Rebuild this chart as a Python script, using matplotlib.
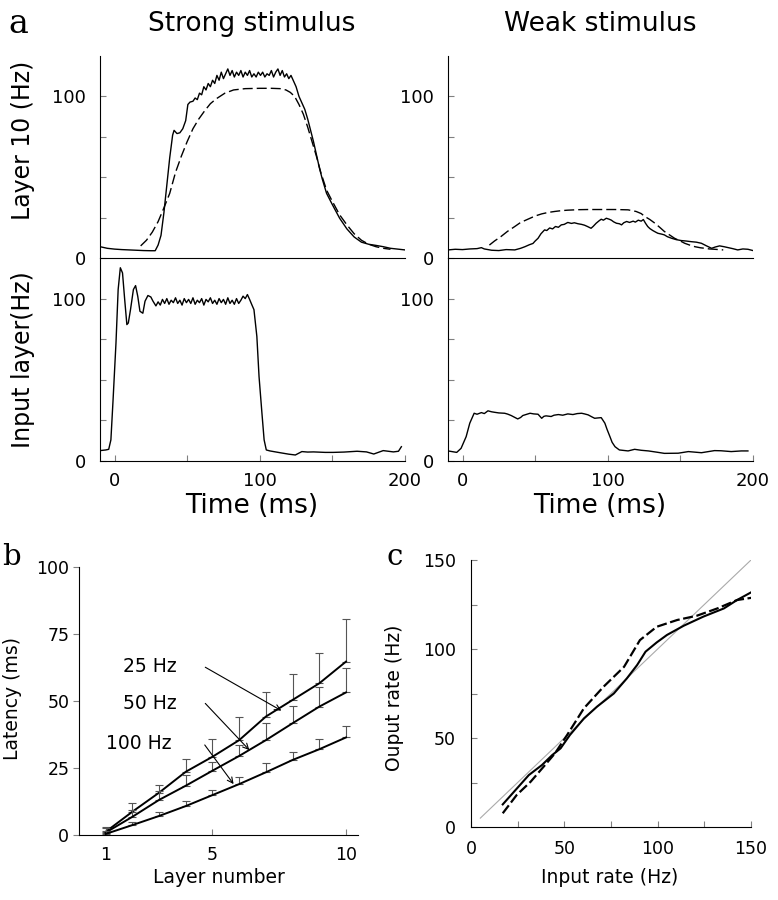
import matplotlib
matplotlib.use('Agg')
import matplotlib.pyplot as plt

# ---- panel a: layer 10 output, strong stimulus (solid = simulation, dashed = prediction)
t_s10 = [-10, -5, 0, 5, 10, 15, 20, 25, 28, 30, 32, 34, 36, 38, 40, 41, 43, 45, 47, 49, 50.5, 52, 54,
         55.5, 57, 58.5, 60, 61.5, 63, 64.5, 66, 67.5, 69, 70.5, 72, 73.5, 75, 76.5, 78, 79.5, 81, 82.5,
         84, 85.5, 87, 88.5, 90, 91.5, 93, 94.5, 96, 97.5, 99, 100.5, 102, 103.5, 105, 106.5, 108, 109.5,
         111, 112.5, 114, 115.5, 117, 118.5, 120, 121.5, 123,
         125, 127, 129, 131, 133, 135, 137, 139, 141, 143, 146, 150, 155, 160, 165, 170, 175, 180, 185,
         190, 195, 200]
v_s10 = [7, 6, 5.5, 5.2, 5, 4.8, 4.6, 4.5, 4.5, 8, 14, 28, 45, 62, 76, 79, 77, 77.5, 80, 85, 95, 96.5, 97,
         99, 98, 102, 101, 106, 104, 108, 106, 110, 108, 113, 110, 115, 111, 114, 117, 113, 116, 112, 115,
         113, 116, 112, 115, 113, 116, 112, 114, 112, 115, 113, 115, 112, 114, 113, 116, 112, 115, 117,
         113, 116, 112, 114, 111, 113, 110,
         106, 100, 96, 92, 86, 79, 72, 64, 56, 49, 40, 33, 24.6, 18, 13, 9.8, 8.5, 7.8, 7, 6, 5.5, 5]
t_d10 = [18, 22, 26, 30, 34, 38, 42, 46, 50, 54, 58, 62, 66, 70, 76, 82, 90, 100, 108, 114, 118, 121,
         124, 127, 130, 133, 136, 139, 142, 146, 150, 155, 160, 165, 170, 175, 180, 185, 190]
v_d10 = [7.5, 11, 16, 22.5, 31, 40, 53, 63, 72, 80, 86, 91, 95.5, 98.5, 102, 104, 104.8, 105, 105, 104.8,
         104, 102.5, 100, 95, 89, 81, 72, 63, 53, 42, 35, 26.7, 20.5, 15, 11, 8.5, 7, 6, 5.4]

# layer 10 output, weak stimulus
t_sw = [-10, -5, 0, 5, 10, 13, 15, 20, 25, 30, 36, 40, 43, 46, 48.5, 50, 52, 54, 56.5, 58, 60, 62, 64,
        66, 68, 70, 72.5, 75, 77, 79.5, 82, 84, 86, 88.5, 90, 92, 94, 95.5, 97, 99, 101, 102.5, 104, 106,
        108, 109.5, 111, 113, 115, 117.5, 119, 121, 123, 124.5, 126, 127.5, 129, 131, 133, 134.5, 137,
        139, 141, 144, 147, 150.5, 154, 157.5, 161, 164.5, 168, 171.5, 174, 177, 180, 183, 186, 189.5,
        193, 196.5, 200]
v_sw = [5, 5.4, 5.2, 5.6, 5.8, 6.4, 5.6, 4.8, 4.6, 5.2, 5, 6, 7, 8.2, 9, 10.5, 12.2, 15, 17.4, 17, 18.6,
        18, 19.5, 19, 20.5, 20.8, 22, 21.4, 21.8, 21.2, 20.8, 20.3, 19.5, 18.4, 19.6, 21.5, 23, 24, 23.4,
        24.6, 24, 23.4, 22.4, 21.5, 21.2, 20.5, 21.8, 22.6, 22, 22.8, 22.2, 23.4, 22.8, 23.8, 21.5, 19.5,
        18.2, 17, 16, 15.3, 14.8, 14.3, 13.2, 12.2, 11.4, 10.8, 10.5, 10.1, 9.8, 9.1, 7.5, 6, 6.8, 7.5,
        7, 6.4, 5.8, 5, 5.6, 5.4, 4.6]
t_dw = [18.5, 22, 26.5, 31, 36, 40, 45, 50, 54.5, 59, 63.5, 68, 72.5, 80, 86.5, 95, 105, 114, 119.5,
        123, 125.5, 129, 132.5, 136, 139, 143, 146, 150, 153, 157, 160, 164, 167, 170, 173.5, 179.5]
v_dw = [8, 10.5, 13.3, 16.5, 19.5, 22, 24, 26, 27.3, 28.2, 28.8, 29.3, 29.6, 29.9, 30, 30, 30, 29.8,
        28.8, 27.5, 25.7, 23.8, 21.5, 18.8, 16.4, 14, 12.2, 10.5, 9.1, 7.8, 7, 6.3, 6, 5.6, 5.4, 5]

# input layer, strong stimulus
t_in_s = [-10, -6, -4, -2.5, -1, 1, 2.5, 4, 5.5, 7, 8.5, 9.5, 11, 13, 14.5, 16, 17.5, 19.5, 21, 23, 25,
          26.5, 28.5, 30,
          31.5, 33, 34.5, 36, 37.5, 39, 40.5, 42, 43.5, 45, 46.5, 48, 49.5, 51, 52.5, 54, 55.5, 57, 58.5,
          60, 61.5, 63, 64.5, 66, 67.5, 69, 70.5, 72, 73.5, 75, 76.5, 78, 79.5, 81, 82.5, 84, 85.5, 87,
          88.5, 90, 91.5, 93,
          94.5, 96, 98, 99.5, 101.5, 103, 104.5, 107, 114, 120, 124.5, 129, 133, 137, 145, 150.5, 158,
          167, 173.5, 178.5, 185, 192, 195.5, 197.5]
v_in_s = [6.4, 6.8, 7.2, 13, 37.7, 72.6, 105.6, 119, 115.8, 99.4, 84, 85, 93.2, 105.6, 108, 101.4, 92.2,
          91, 98.4, 101.9, 101, 98.4, 95.5, 98,
          96, 99.5, 97, 100, 96.5, 99, 97.5, 100.5, 97, 99, 96, 100, 97.5, 99.5, 97, 100.5, 96.5, 99, 97.5,
          100, 96, 99.5, 98, 100.5, 97, 99, 96.5, 100, 97.5, 99.5, 96.5, 100.5, 97, 99, 96.5, 100, 97, 99,
          101.5, 100, 102.5, 99.5,
          96.3, 93.2, 76.7, 52, 29.4, 13, 6.8, 6.2, 5.1, 4.2, 3.7, 5.8, 5.5, 5.6, 5.3, 5.3, 5.5, 6, 5.6,
          4.3, 6.4, 5.6, 6, 8.8]

# input layer, weak stimulus
t_in_w = [-10, -4, -1, 2.5, 5, 8, 10, 13, 15, 17.5, 20, 22, 25, 29, 31, 33.5, 38, 40, 41.5, 44, 46.5, 49,
          52, 54.5, 56, 57.5, 61, 63, 66, 69, 72.5, 76, 79, 82, 84, 86.5, 89, 91, 93, 95.5, 98, 99.5,
          101.5, 103, 105, 108, 114, 118.5, 123, 128, 134, 139, 148.5, 155.5, 164.5, 173.5, 178, 185,
          192, 196.5]
v_in_w = [6.2, 5.3, 7.8, 15, 23.3, 29.4, 28.8, 29.8, 29.2, 30.9, 30.3, 30, 29.6, 29.4, 28.9, 28, 25.9,
          26.8, 28, 28.7, 29.4, 29, 28.8, 26.3, 27.5, 27.8, 27.4, 28.2, 28.6, 28.2, 29, 28.6, 29.2, 29.4,
          29, 28.4, 27.2, 26.3, 26.5, 26.7, 23.3, 19.5, 15, 11.5, 8.8, 6.8, 6.2, 7.2, 6.6, 6.2, 5.4, 4.7,
          4.8, 5.8, 5.1, 6.4, 6.3, 5.8, 6.2, 6.2]

# ---- panel b: latency per layer (mean, upper error)
layers = [1, 2, 3, 4, 5, 6, 7, 8, 9, 10]
lat_25 = [1.2, 8.7, 15.8, 23.6, 29.2, 35.4, 44.2, 50.4, 56.6, 64.7]
err_25 = [1.9, 3.3, 2.9, 4.6, 6.8, 8.8, 9.3, 9.6, 11.2, 15.8]
lat_50 = [0.9, 6.8, 13.1, 18.4, 24, 29.5, 35.4, 41.7, 47.9, 53.2]
err_50 = [1.6, 2.7, 3.4, 4.0, 3.4, 4.1, 6.3, 6.6, 7.4, 9.2]
lat_100 = [0.4, 3.7, 7.1, 10.8, 14.9, 19, 23.4, 28, 32, 36.4]
err_100 = [1.1, 1.3, 1.4, 1.9, 1.9, 2.8, 3.3, 2.8, 4.0, 4.3]
freq_labels = ['25 Hz', '50 Hz', '100 Hz']

# ---- panel c: input vs output rate
in_solid = [17, 31, 38, 43.5, 48, 53, 60.5, 67.5, 76.5, 83.5, 89, 93.5, 99.5, 105, 114, 124.5, 135.5,
            142.5, 150]
out_solid = [12.7, 29.2, 34.8, 40.4, 44.2, 51.7, 61, 67.6, 75, 83.5, 91, 98.5, 103.7, 107.9, 113.1,
             118.2, 122.8, 127.5, 131.8]
in_dash = [17, 24.5, 32, 39, 45, 51.5, 60.5, 71, 82, 90.5, 99.5, 110.5, 121, 132, 142.5, 150.5]
out_dash = [7.7, 18, 25.5, 34, 41.4, 51.7, 66.7, 78.8, 90, 105, 112.5, 116.3, 118.7, 122.8, 127.5, 128.8]
diag = [5, 150]

W, H = 778, 900
GREY = '#808080'

fig = plt.figure(figsize=(W / 100, H / 100), dpi=100)


def box(x0, y0, x1, y1):
    return [x0 / W, 1 - y1 / H, (x1 - x0) / W, (y1 - y0) / H]


def trace_axes(rect, top):
    ax = fig.add_axes(rect)
    ax.patch.set_visible(False)
    ax.set_xlim(-10, 200)
    ax.set_ylim(0, 125)
    ax.spines['right'].set_visible(False)
    ax.spines['top'].set_visible(False)
    ax.set_yticks([0, 100])
    ax.set_yticks([25, 50, 75], minor=True)
    ax.tick_params(axis='y', which='both', direction='in', length=4, width=0.8,
                   color=GREY, labelsize=13, pad=10)
    if top:
        ax.set_xticks([])
    else:
        ax.set_xticks([0, 100, 200])
        ax.set_xticks([50, 150], minor=True)
        ax.tick_params(axis='x', which='both', direction='in', length=4, width=0.8,
                       color=GREY, labelsize=13, pad=8)
    return ax


ax1 = trace_axes(box(100, 56, 405, 258), True)
ax1.plot(t_s10, v_s10, color='k', lw=1.0)
ax1.plot(t_d10, v_d10, color='k', lw=1.0, dashes=(7.2, 2.9))

ax2 = trace_axes(box(448, 56, 753, 258), True)
ax2.plot(t_sw, v_sw, color='k', lw=1.0)
ax2.plot(t_dw, v_dw, color='k', lw=1.0, dashes=(7.2, 2.9))

ax3 = trace_axes(box(100, 258, 405, 461), False)
ax3.plot(t_in_s, v_in_s, color='k', lw=1.0)

ax4 = trace_axes(box(448, 258, 753, 461), False)
ax4.plot(t_in_w, v_in_w, color='k', lw=1.0)

# keep the zero line of the upper panels on top
ax1.set_zorder(3)
ax2.set_zorder(3)

fig.text(252 / W, 1 - 24 / H, 'Strong stimulus', ha='center', va='center', fontsize=19)
fig.text(600 / W, 1 - 24 / H, 'Weak stimulus', ha='center', va='center', fontsize=19)
fig.text(23 / W, 1 - 140 / H, 'Layer 10 (Hz)', rotation=90, ha='center', va='center', fontsize=17)
fig.text(23 / W, 1 - 360 / H, 'Input layer(Hz)', rotation=90, ha='center', va='center', fontsize=17)
fig.text(252 / W, 1 - 513 / H, 'Time (ms)', ha='center', va='baseline', fontsize=19)
fig.text(600 / W, 1 - 513 / H, 'Time (ms)', ha='center', va='baseline', fontsize=19)

# ---- panel b
axb = fig.add_axes(box(79, 567, 358, 835))
axb.set_xlim(0, 10.45)
axb.set_ylim(0, 100)
axb.spines['right'].set_visible(False)
axb.spines['top'].set_visible(False)
axb.set_xticks([1, 5, 10])
axb.set_yticks([0, 25, 50, 75, 100])
axb.tick_params(axis='y', direction='out', length=4, width=0.8, color=GREY, labelsize=12.5, pad=3)
axb.tick_params(axis='x', direction='in', length=4, width=0.8, color=GREY, labelsize=12.5, pad=8)
for lat, err in [(lat_25, err_25), (lat_50, err_50), (lat_100, err_100)]:
    axb.errorbar(layers, lat, yerr=[[0] * len(err), err], fmt='none', ecolor='#555555',
                 elinewidth=0.8, capsize=3, capthick=0.8)
    axb.plot(layers, lat, color='k', lw=1.4)

label_pos = [(3.65, 63), (3.65, 49), (3.47, 34.3)]
arrow_from = [(4.73, 62.6), (4.73, 49.1), (4.71, 33.6)]
arrow_to = [(7.58, 46.4), (6.38, 31.7), (5.79, 19)]
for lab, pos, a0, a1 in zip(freq_labels, label_pos, arrow_from, arrow_to):
    axb.text(pos[0], pos[1], lab, ha='right', va='center', fontsize=13.5)
    axb.annotate('', xy=a1, xytext=a0,
                 arrowprops=dict(arrowstyle='->', lw=0.8, color='k', shrinkA=0, shrinkB=0))

fig.text(13 / W, 1 - 699 / H, 'Latency (ms)', rotation=90, ha='center', va='center', fontsize=13.5)
fig.text(219 / W, 1 - 883 / H, 'Layer number', ha='center', va='baseline', fontsize=13.5)

# ---- panel c
axc = fig.add_axes(box(471, 560, 751, 827))
axc.set_xlim(0, 150)
axc.set_ylim(0, 150)
axc.spines['right'].set_visible(False)
axc.spines['top'].set_visible(False)
axc.set_xticks([0, 50, 100, 150])
axc.set_xticks([25, 75, 125], minor=True)
axc.set_yticks([0, 50, 100, 150])
axc.set_yticks([25, 75, 125], minor=True)
axc.tick_params(axis='both', which='both', direction='in', length=4, width=0.8, color=GREY,
                labelsize=12.5)
axc.tick_params(axis='y', pad=11)
axc.tick_params(axis='x', pad=9)
axc.plot(diag, diag, color='#aaaaaa', lw=0.8)
axc.plot(in_solid, out_solid, color='k', lw=1.5)
axc.plot(in_dash, out_dash, color='k', lw=1.6, dashes=(4.5, 1.6))

fig.text(395 / W, 1 - 698 / H, 'Ouput rate (Hz)', rotation=90, ha='center', va='center', fontsize=13.5)
fig.text(610 / W, 1 - 883 / H, 'Input rate (Hz)', ha='center', va='baseline', fontsize=13.5)

# panel letters
fig.text(8 / W, 1 - 33 / H, 'a', family='DejaVu Serif', fontsize=24, va='baseline')
fig.text(2 / W, 1 - 565 / H, 'b', family='DejaVu Serif', fontsize=21, va='baseline')
fig.text(387 / W, 1 - 565 / H, 'c', family='DejaVu Serif', fontsize=21, va='baseline')

fig.savefig('out.png', dpi=100)
